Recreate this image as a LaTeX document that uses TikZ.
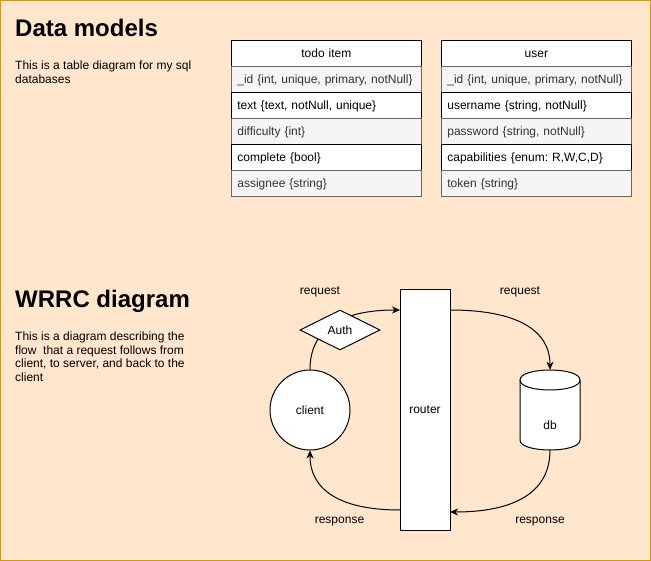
\documentclass[tikz,border=0pt]{standalone}
\usepackage{fontspec}
\setmainfont{Liberation Sans}
\frenchspacing
\usetikzlibrary{shapes.geometric,arrows.meta}
\definecolor{bgfill}{HTML}{FFE6CC}
\definecolor{bgline}{HTML}{D79B00}
\definecolor{rowgray}{HTML}{F5F5F5}
\definecolor{linegray}{HTML}{666666}
\definecolor{textgray}{HTML}{333333}
\begin{document}
\begin{tikzpicture}[x=1pt,y=-1pt,
  every node/.style={font=\fontsize{12}{13.5}\selectfont},
  title/.style={anchor=base west, inner sep=0pt, font=\fontsize{24}{28}\selectfont\bfseries},
  desc/.style={anchor=base west, inner sep=0pt, align=left},
  rowbase/.style={draw, line width=0.8pt, text width=178pt, inner xsep=6pt, inner ysep=0pt,
    minimum height=26pt, text height=8.6pt, text depth=0pt, align=left, anchor=north west},
  grayrow/.style={rowbase, fill=rowgray, draw=linegray, text=textgray},
  whiterow/.style={rowbase, fill=white, draw=black},
  headrow/.style={rowbase, fill=white, draw=black, align=center},
  shapebox/.style={draw, fill=white, line width=1pt, inner sep=0pt},
  edge/.style={draw, line width=1pt, -{Stealth[length=8pt, width=7pt, inset=2.5pt]}},
  lbl/.style={anchor=base, inner sep=0pt}
]
\useasboundingbox (0,0) rectangle (651,561);
\draw[fill=bgfill, draw=bgline, line width=1pt] (0.5,0.5) rectangle (650.5,560.5);

% Titles and descriptions (desc anchored at the baseline of the last line)
\node[title] (t1) at (15,37) {Data models};
\node[desc] (d1) at (15,83.5) {This is a table diagram for my sql\\databases};
\node[title] (t2) at (15,307.5) {WRRC diagram};
\node[desc] (d2) at (15,381.5) {This is a diagram describing the\\flow\ \ that a request follows from\\client, to server, and back to the\\client};

% todo item table
\node[headrow] (todoh) at (231,40) {todo item};
\node[grayrow] (todo1) at (231,66) {\_id \{int, unique, primary, notNull\}};
\node[whiterow] (todo2) at (231,92) {text \{text, notNull, unique\}};
\node[grayrow] (todo3) at (231,118) {difficulty \{int\}};
\node[whiterow] (todo4) at (231,144) {complete \{bool\}};
\node[grayrow] (todo5) at (231,170) {assignee \{string\}};

% user table
\node[headrow] (userh) at (441,40) {user};
\node[grayrow] (user1) at (441,66) {\_id \{int, unique, primary, notNull\}};
\node[whiterow] (user2) at (441,92) {username \{string, notNull\}};
\node[grayrow] (user3) at (441,118) {password \{string, notNull\}};
\node[whiterow] (user4) at (441,144) {capabilities \{enum: R,W,C,D\}};
\node[grayrow] (user5) at (441,170) {token \{string\}};

% WRRC shapes
\node[shapebox, circle, minimum size=80pt] (client) at (310,410) {client};
\node[shapebox, rectangle, minimum width=50pt, minimum height=240pt] (router) at (425,410) {router};
\node[inner sep=0pt, minimum width=60pt, minimum height=80pt] (db) at (550,410) {};
\filldraw[fill=white, line width=1pt] (520,380) .. controls (520,366.67) and (580,366.67) .. (580,380)
  -- (580,440) .. controls (580,453.33) and (520,453.33) .. (520,440) -- cycle;
\draw[line width=1pt] (520,380) .. controls (520,393.33) and (580,393.33) .. (580,380);
\node (dbtext) at (550,425) {db};

\coordinate (rin) at (400,310);
\coordinate (rout) at (450,310);
\coordinate (rback) at (450,512);
\coordinate (rresp) at (400,510);

% connectors
\draw[edge] (client.north) .. controls (310,330) and (340,310) .. (rin);
\draw[edge] (rout) .. controls (516.7,310) and (550,330) .. (db.north);
\draw[edge] (db.south) .. controls (550,491) and (516.7,512) .. (rback);
\draw[edge] (rresp) .. controls (340,510) and (310,490) .. (client.south);

\node[shapebox, diamond, shape aspect=2, minimum width=80pt, minimum height=40pt] (auth) at (340,330) {Auth};

% labels
\node[lbl] (l1) at (320,294.5) {request};
\node[lbl] (l2) at (520,294.5) {request};
\node[lbl] (l3) at (339.5,523.5) {response};
\node[lbl] (l4) at (540,523.5) {response};
\end{tikzpicture}
\end{document}
